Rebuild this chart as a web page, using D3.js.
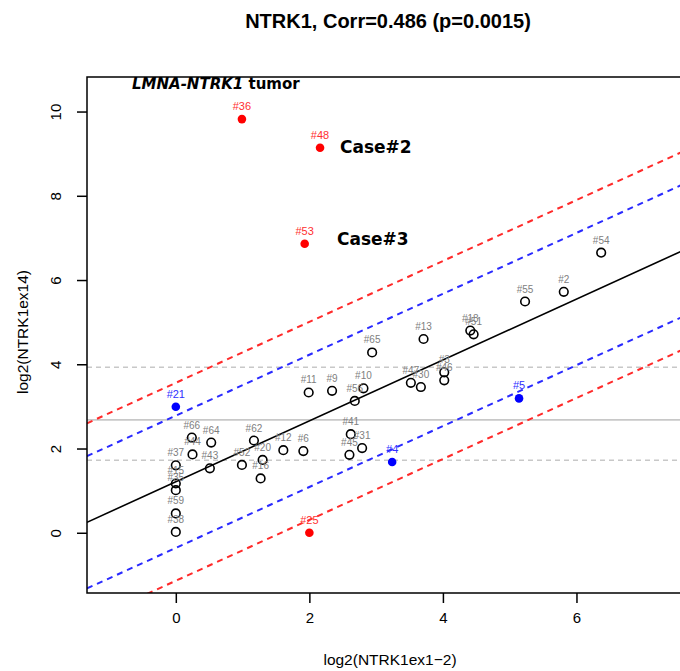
<!DOCTYPE html>
<html>
<head>
<meta charset="utf-8">
<script src="https://cdn.jsdelivr.net/npm/d3@7/dist/d3.min.js"></script>
<style>
 body { margin: 0; background: #fff; }
 svg { font-family: "Liberation Sans", Arial, sans-serif; }
</style>
</head>
<body>
<svg id="chart" width="680" height="671"></svg>
<script>
// sample ids, values
var ids   = ["#36","#48","#53","#25","#21","#4","#5",
             "#66","#64","#44","#62","#20","#12","#37","#43","#52","#16","#15","#35","#59","#38",
             "#65","#11","#9","#10","#56","#41","#31","#45","#6",
             "#13","#18","#51","#47","#30","#3","#46","#54","#2","#55"];
var xVals = [0.99,2.16,1.93,2.00,0.00,3.24,5.14,
             0.24,0.53,0.25,1.17,1.30,1.61,0.00,0.51,0.99,1.27,0.00,0.00,0.00,0.00,
             2.94,1.99,2.34,2.81,2.68,2.62,2.79,2.60,1.91,
             3.71,4.41,4.46,3.52,3.67,4.02,4.02,6.37,5.81,5.23];
var yVals = [9.82,9.14,6.86,0.00,2.99,1.68,3.19,
             2.26,2.14,1.86,2.19,1.73,1.96,1.60,1.53,1.61,1.29,1.17,1.01,0.46,0.02,
             4.28,3.33,3.37,3.43,3.13,2.34,2.01,1.85,1.94,
             4.60,4.80,4.71,3.56,3.46,3.81,3.62,6.65,5.72,5.49];
var groups = ["red","red","red","red","blue","blue","blue"]; // the rest are open

// regression fit and bands
var fitIntercept = 1.21, fitSlope = 0.723;
var bandOffsets = [2.35, 1.57, -1.57, -2.35];
var bandColors  = ["#ff2a2a","#2a2aff","#2a2aff","#ff2a2a"];
// horizontal mean and spread of y
var hMean = 2.68, hBand = [3.93, 1.72];

var xTicks = [0,2,4,6], yTicks = [0,2,4,6,8,10];

var svg = d3.select("#chart");
var L = 87, T = 77, R = 700, B = 593;

var x = d3.scaleLinear().domain([-1.33, 7.85]).range([L, R]);
var y = d3.scaleLinear().domain([-1.43, 10.82]).range([B, T]);

svg.append("defs").append("clipPath").attr("id","clip")
   .append("rect").attr("x",L).attr("y",T).attr("width",R-L).attr("height",B-T);

var plot = svg.append("g").attr("clip-path","url(#clip)");

// gray horizontal lines
plot.append("line").attr("x1",L).attr("x2",R).attr("y1",y(hMean)).attr("y2",y(hMean))
    .attr("stroke","#c8c8c8").attr("stroke-width",1.6);
hBand.forEach(function(v){
  plot.append("line").attr("x1",L).attr("x2",R).attr("y1",y(v)).attr("y2",y(v))
      .attr("stroke","#c8c8c8").attr("stroke-width",1.5).attr("stroke-dasharray","5,4");
});

var xd = x.domain();
bandOffsets.forEach(function(o,i){
  plot.append("line")
      .attr("x1",x(xd[0])).attr("y1",y(fitIntercept+o+fitSlope*xd[0]))
      .attr("x2",x(xd[1])).attr("y2",y(fitIntercept+o+fitSlope*xd[1]))
      .attr("stroke",bandColors[i]).attr("stroke-width",2).attr("stroke-dasharray","6,5");
});
plot.append("line")
    .attr("x1",x(xd[0])).attr("y1",y(fitIntercept+fitSlope*xd[0]))
    .attr("x2",x(xd[1])).attr("y2",y(fitIntercept+fitSlope*xd[1]))
    .attr("stroke","#000").attr("stroke-width",1.6);

// points
ids.forEach(function(id,i){
  var g = groups[i];
  var col = g=="red" ? "#ff0000" : g=="blue" ? "#0000ff" : "#000";
  var lab = g=="red" ? "#ff3030" : g=="blue" ? "#3030ff" : "#808080";
  plot.append("circle").attr("cx",x(xVals[i])).attr("cy",y(yVals[i])).attr("r",4.3)
      .attr("fill", g ? col : "none").attr("stroke",col).attr("stroke-width", g ? 0 : 1.6);
  plot.append("text").attr("x",x(xVals[i])).attr("y",y(yVals[i])-9)
      .attr("text-anchor","middle").attr("font-size", g ? 11 : 10)
      .attr("fill",lab).text(id);
});

// box (left, top, bottom)
svg.append("path").attr("d","M"+R+","+T+"H"+L+"V"+B+"H"+R)
   .attr("fill","none").attr("stroke","#000").attr("stroke-width",1.5);

// axes
svg.append("g").attr("transform","translate(0,"+B+")")
   .call(d3.axisBottom(x).tickValues(xTicks).tickSize(10).tickPadding(9).tickFormat(d3.format("d")))
   .call(function(g){ g.select(".domain").remove();
     g.selectAll("line").attr("stroke-width",1.5);
     g.selectAll("text").attr("font-size",15).attr("font-family","Liberation Sans, Arial, sans-serif"); });

var ya = svg.append("g").attr("transform","translate("+L+",0)")
   .call(d3.axisLeft(y).tickValues(yTicks).tickSize(10).tickFormat(d3.format("d")))
   .call(function(g){ g.select(".domain").remove();
     g.selectAll("line").attr("stroke-width",1.5); });
ya.selectAll("text").attr("font-size",15).attr("font-family","Liberation Sans, Arial, sans-serif")
  .attr("text-anchor","middle").attr("x",null).attr("dy",null)
  .attr("transform","translate(-30,0) rotate(-90)").attr("dominant-baseline","middle");

// titles
svg.append("text").attr("x",388).attr("y",28).attr("text-anchor","middle")
   .attr("font-size",20).attr("font-weight","bold").text("NTRK1, Corr=0.486 (p=0.0015)");
svg.append("text").attr("x",390).attr("y",665).attr("text-anchor","middle")
   .attr("font-size",15.5).text("log2(NTRK1ex1\u22122)");
svg.append("text").attr("transform","translate(28,332) rotate(-90)").attr("text-anchor","middle")
   .attr("font-size",15.5).text("log2(NTRK1ex14)");

// annotations
var ann = svg.append("text").attr("x",132).attr("y",89).attr("font-size",15)
   .attr("font-weight","bold").attr("font-family","DejaVu Sans, sans-serif");
ann.append("tspan").attr("font-style","italic").text("LMNA-NTRK1");
ann.append("tspan").text(" tumor");
svg.append("text").attr("x",340).attr("y",153).attr("font-size",17).attr("font-weight","bold")
   .attr("font-family","DejaVu Sans, sans-serif").text("Case#2");
svg.append("text").attr("x",337).attr("y",245).attr("font-size",17).attr("font-weight","bold")
   .attr("font-family","DejaVu Sans, sans-serif").text("Case#3");
</script>
</body>
</html>
